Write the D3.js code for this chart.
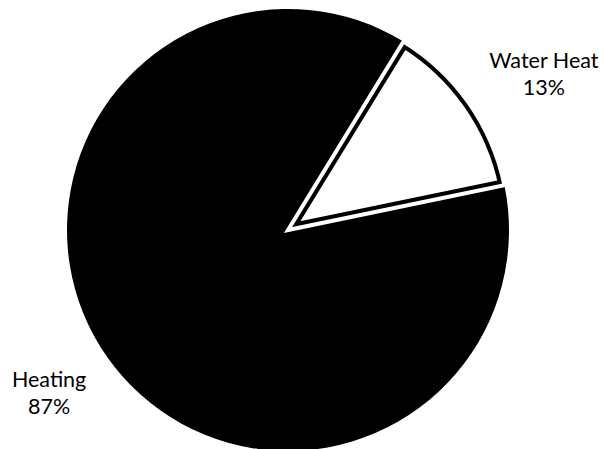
<!DOCTYPE html>
<html>
<head>
<meta charset="utf-8">
<script src="https://cdn.jsdelivr.net/npm/d3@7"></script>
<style>
  html, body { margin: 0; padding: 0; background: #fff; }
  svg { display: block; }
  text { font-family: Lato, "Open Sans", sans-serif; fill: #000; }
</style>
</head>
<body>
<svg id="chart" width="604" height="449"></svg>
<script>
// Energy use split
const categories = ["Water Heat", "Heating"];
const shares = [13, 87];
const percentLabels = ["13%", "87%"];

const W = 604, H = 449;
const cx = 288, cy = 230, R = 221;
const gap = 4;      // white separation between slices
const border = 4;   // black outline of the light slice
const startDeg = 31.5;

const svg = d3.select("#chart");
const g = svg.append("g").attr("transform", `translate(${cx},${cy})`);

const pie = d3.pie()
  .sort(null)
  .value(d => d.value)
  .startAngle(startDeg * Math.PI / 180)
  .endAngle(startDeg * Math.PI / 180 + 2 * Math.PI);

const data = categories.map((c, i) => ({ name: c, value: shares[i], label: percentLabels[i] }));
const arcs = pie(data);
const arc = d3.arc().innerRadius(0).outerRadius(R);

const dark = arcs.filter(a => a.data.name === "Heating");
const light = arcs.filter(a => a.data.name === "Water Heat");

// dark slice
g.selectAll("path.dark")
  .data(dark)
  .join("path")
  .attr("class", "dark")
  .attr("d", arc)
  .attr("fill", "#000");

// clip each light slice to its own outline so its border sits inside
const defs = svg.append("defs");
defs.selectAll("clipPath")
  .data(light)
  .join("clipPath")
  .attr("id", (d, i) => `clip-light-${i}`)
  .append("path")
  .attr("d", arc);

g.selectAll("path.light")
  .data(light)
  .join("path")
  .attr("class", "light")
  .attr("d", arc)
  .attr("fill", "#fff")
  .attr("stroke", "#000")
  .attr("stroke-width", 2 * (gap / 2 + border))
  .attr("stroke-linejoin", "miter")
  .attr("clip-path", (d, i) => `url(#clip-light-${i})`);

// white separation line around the light slice
g.selectAll("path.sep")
  .data(light)
  .join("path")
  .attr("class", "sep")
  .attr("d", arc)
  .attr("fill", "none")
  .attr("stroke", "#fff")
  .attr("stroke-width", gap)
  .attr("stroke-linejoin", "miter");

// category labels placed beyond the rim along each slice's mid-angle
const labelArc = d3.arc().innerRadius(292).outerRadius(292);
const nudge = { "Water Heat": [17, 10], "Heating": [0, -7] };
const fontSize = 21.5, lineH = 27;

const labels = g.selectAll("text.lbl")
  .data(arcs)
  .join("text")
  .attr("class", "lbl")
  .attr("text-anchor", "middle")
  .attr("font-size", fontSize)
  .attr("transform", d => {
    const [x, y] = labelArc.centroid(d);
    const [nx, ny] = nudge[d.data.name];
    return `translate(${x + nx},${y + ny})`;
  });

labels.append("tspan")
  .attr("x", 0)
  .attr("dy", -4)
  .text(d => d.data.name);
labels.append("tspan")
  .attr("x", 0)
  .attr("dy", lineH)
  .text(d => d.data.label);
</script>
</body>
</html>
